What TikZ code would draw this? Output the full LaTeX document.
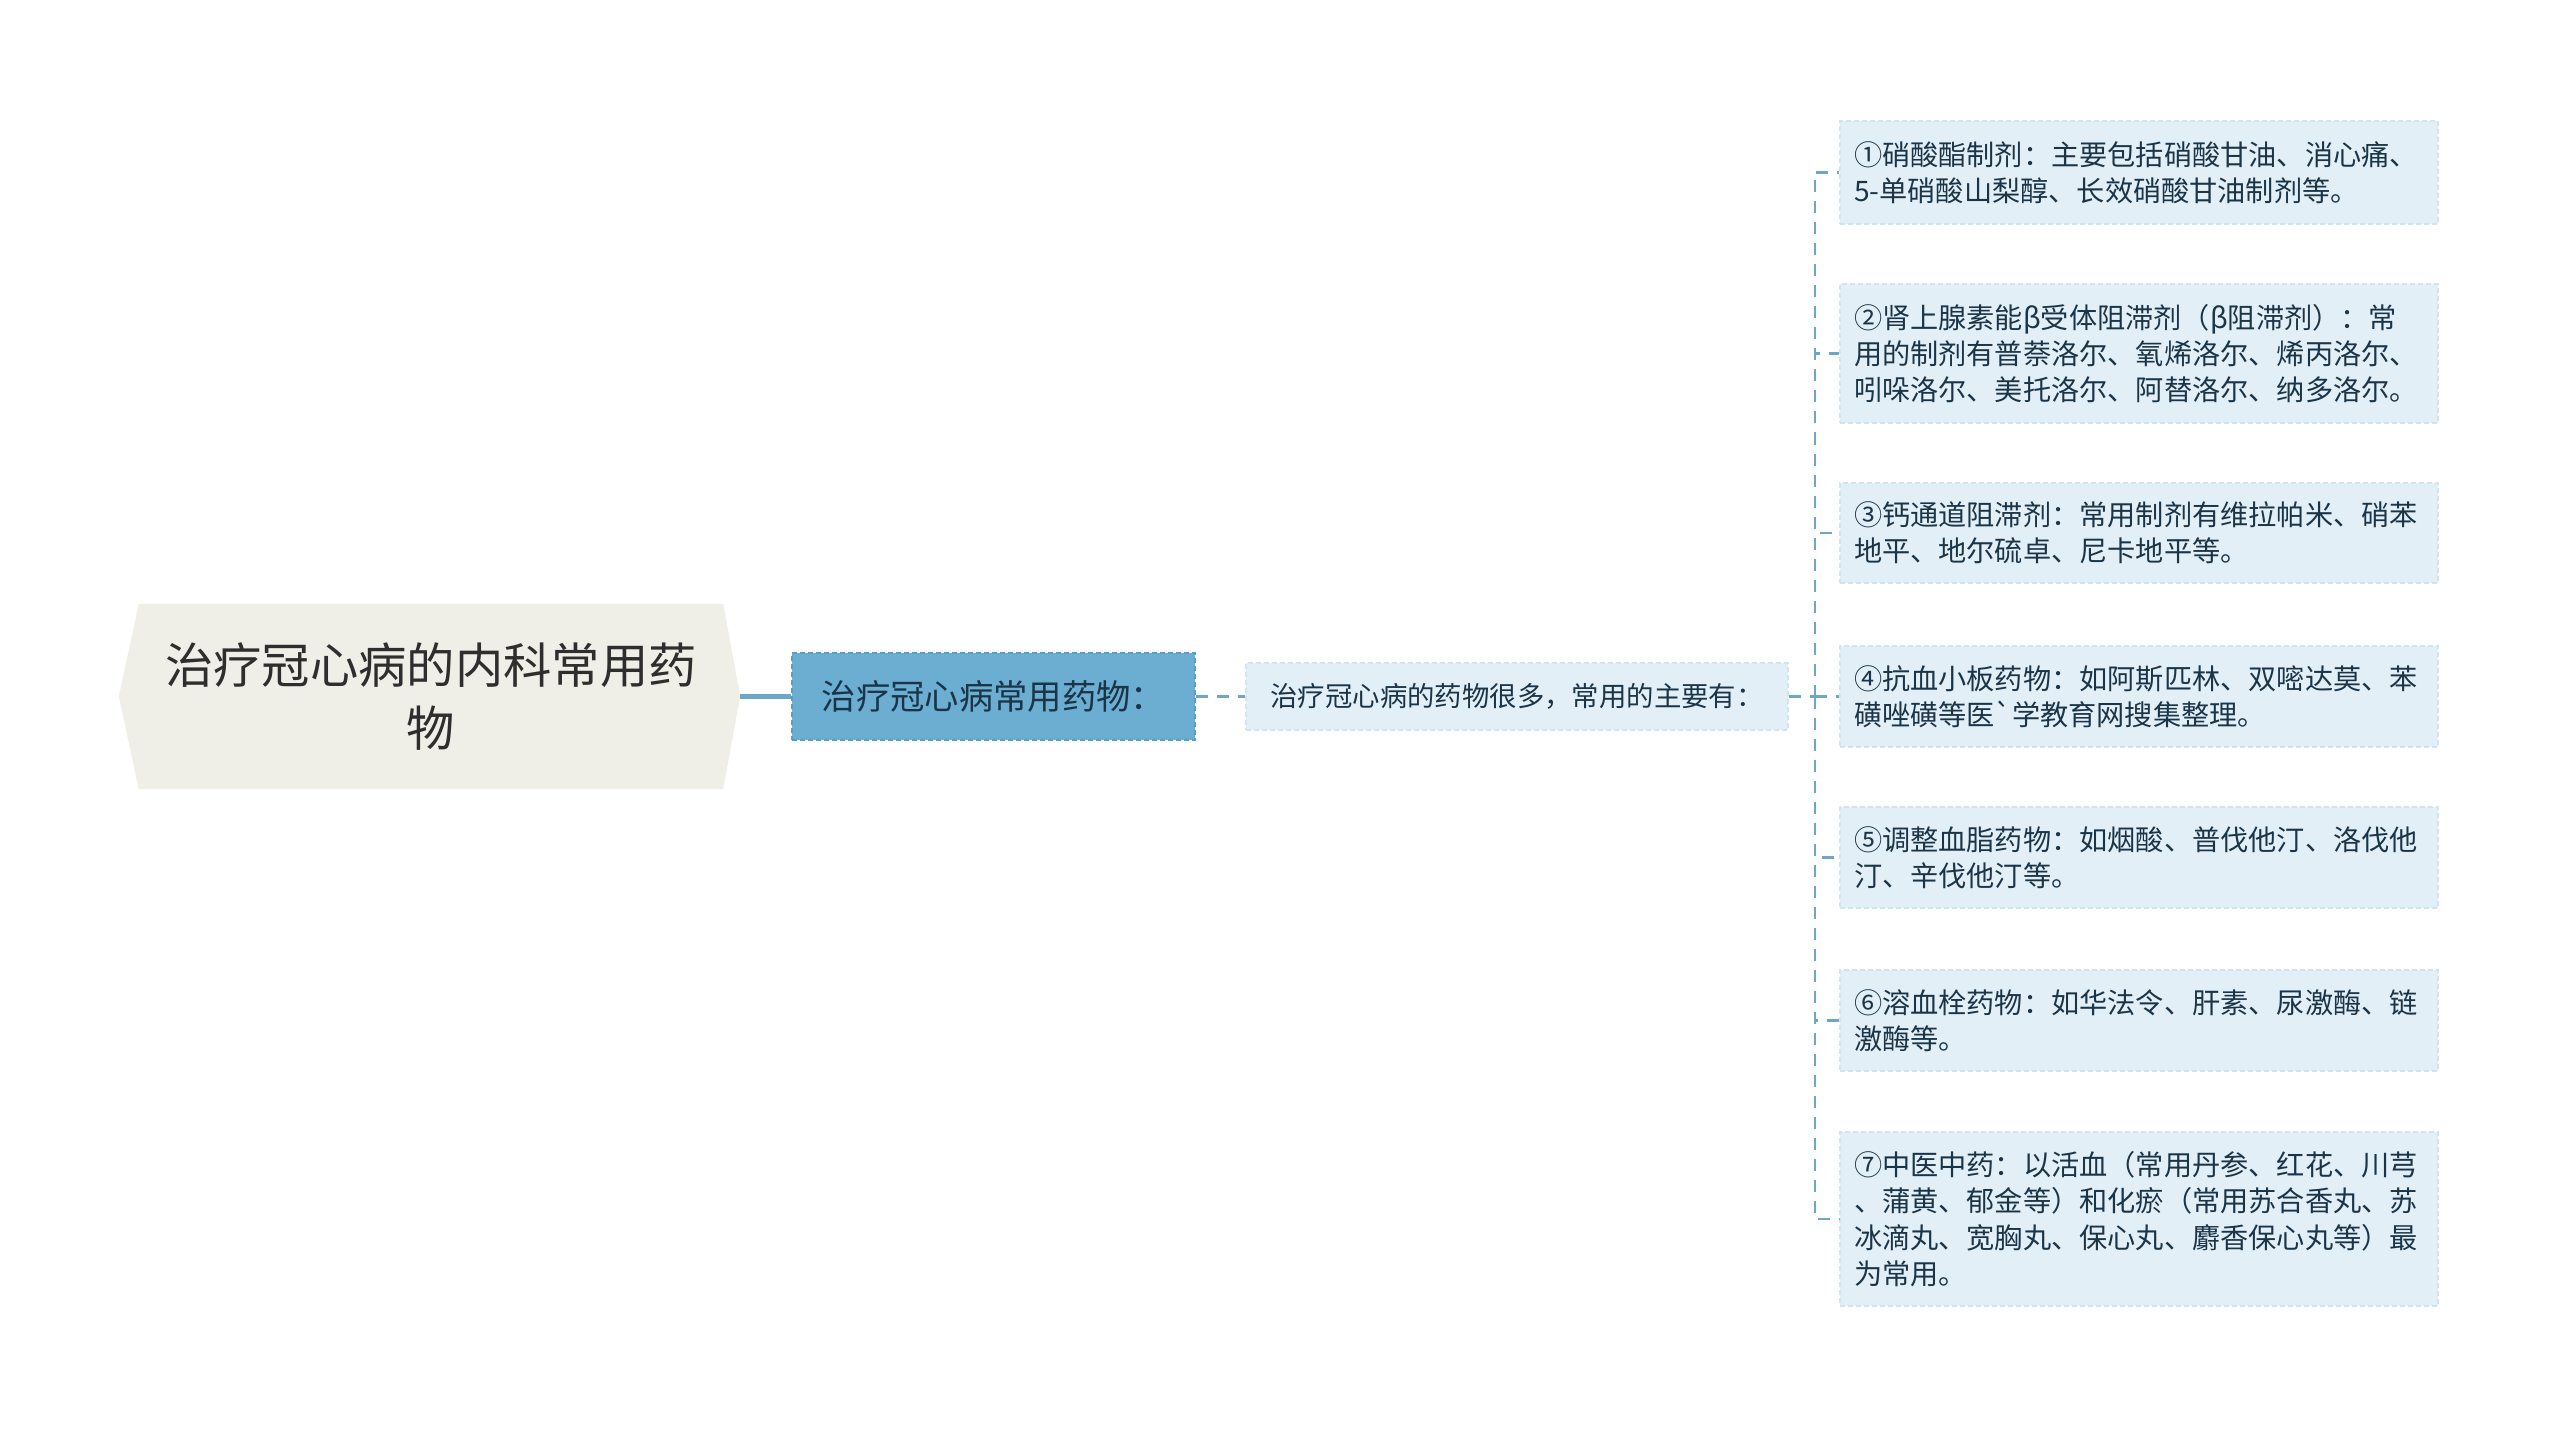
\documentclass[tikz,border=0pt]{standalone}
\usepackage{fontspec}
\setmainfont{Noto Sans CJK SC}
\usetikzlibrary{backgrounds}
\definecolor{rootfill}{HTML}{EFEFE7}
\definecolor{lonefill}{HTML}{6BAED2}
\definecolor{loneborder}{HTML}{5A9EC4}
\definecolor{leaffill}{HTML}{E2EFF7}
\definecolor{leafborder}{HTML}{D2E4EF}
\definecolor{conn}{HTML}{6AA7C9}
\definecolor{txt}{HTML}{1B3548}
\definecolor{roottxt}{HTML}{2E2E2E}
\begin{document}
\begin{tikzpicture}[x=1bp,y=-1bp,
  rootbox/.style={inner sep=0pt, minimum width=584bp, minimum height=185bp, align=center, text=roottxt, font=\fontsize{48.5}{64}\selectfont},
  lonebox/.style={fill=lonefill, draw=loneborder, dash pattern=on 5bp off 3bp, line width=1.5bp, minimum width=403bp, minimum height=87bp, inner sep=0pt, text=txt, font=\fontsize{34.5}{40}\selectfont},
  ltwobox/.style={fill=leaffill, draw=leafborder, dash pattern=on 5bp off 3bp, line width=1.5bp, minimum width=542bp, minimum height=67bp, inner sep=0pt, text=txt, font=\fontsize{27.5}{32}\selectfont},
  leafbox/.style={fill=leaffill, draw=leafborder, dash pattern=on 5bp off 3bp, line width=1.5bp, text width=570bp, inner xsep=14bp, inner ysep=0pt, align=left, text=txt, font=\fontsize{28.3}{36.5}\selectfont},
  dconn/.style={draw=conn, line width=2.2bp, dash pattern=on 12bp off 9bp},
  sconn/.style={draw=conn, line width=5bp}]
\useasboundingbox (0,0) rectangle (2560,1431);
% nodes
\node[rootbox] (root) at (431,696.5) {治疗冠心病的内科常用药\\物};
\coordinate (rootR) at ([xshift=17bp]root.east);
\coordinate (rootL) at ([xshift=-20bp]root.west);
\node[lonebox] (lone) at (993.5,696.5) {治疗冠心病常用药物：};
\node[ltwobox] (ltwo) at (1517,696.5) {治疗冠心病的药物很多，常用的主要有：};
\coordinate (hub) at (1815,696.5);
\node[leafbox, minimum height=103bp] (leaf1) at (2139,172.5) {①硝酸酯制剂：主要包括硝酸甘油、消心痛、\\5-单硝酸山梨醇、长效硝酸甘油制剂等。};
\node[leafbox, minimum height=139bp] (leaf2) at (2139,353.5) {②肾上腺素能β受体阻滞剂（β阻滞剂）：常\\用的制剂有普萘洛尔、氧烯洛尔、烯丙洛尔、\\吲哚洛尔、美托洛尔、阿替洛尔、纳多洛尔。};
\node[leafbox, minimum height=100bp] (leaf3) at (2139,533) {③钙通道阻滞剂：常用制剂有维拉帕米、硝苯\\地平、地尔硫卓、尼卡地平等。};
\node[leafbox, minimum height=101bp] (leaf4) at (2139,696.5) {④抗血小板药物：如阿斯匹林、双嘧达莫、苯\\磺唑磺等医\textasciigrave 学教育网搜集整理。};
\node[leafbox, minimum height=101bp] (leaf5) at (2139,857.5) {⑤调整血脂药物：如烟酸、普伐他汀、洛伐他\\汀、辛伐他汀等。};
\node[leafbox, minimum height=101bp] (leaf6) at (2139,1020.5) {⑥溶血栓药物：如华法令、肝素、尿激酶、链\\激酶等。};
\node[leafbox, minimum height=174bp] (leaf7) at (2139,1219) {⑦中医中药：以活血（常用丹参、红花、川芎\\、蒲黄、郁金等）和化瘀（常用苏合香丸、苏\\冰滴丸、宽胸丸、保心丸、麝香保心丸等）最\\为常用。};
% background and root shape
\begin{scope}[on background layer]
  \fill[white] (0,0) rectangle (2560,1431);
  \fill[rootfill] (root.north west) -- (root.north east) -- (rootR) -- (root.south east) -- (root.south west) -- (rootL) -- cycle;
\end{scope}
% connectors
\draw[sconn] (rootR) -- (lone.west);
\draw[dconn] (lone.east) -- (ltwo.west);
\draw[dconn] (ltwo.east) -- (hub);
\foreach \n in {1,...,7} {
  \draw[dconn] (hub) |- (leaf\n.west);
}
\end{tikzpicture}
\end{document}
